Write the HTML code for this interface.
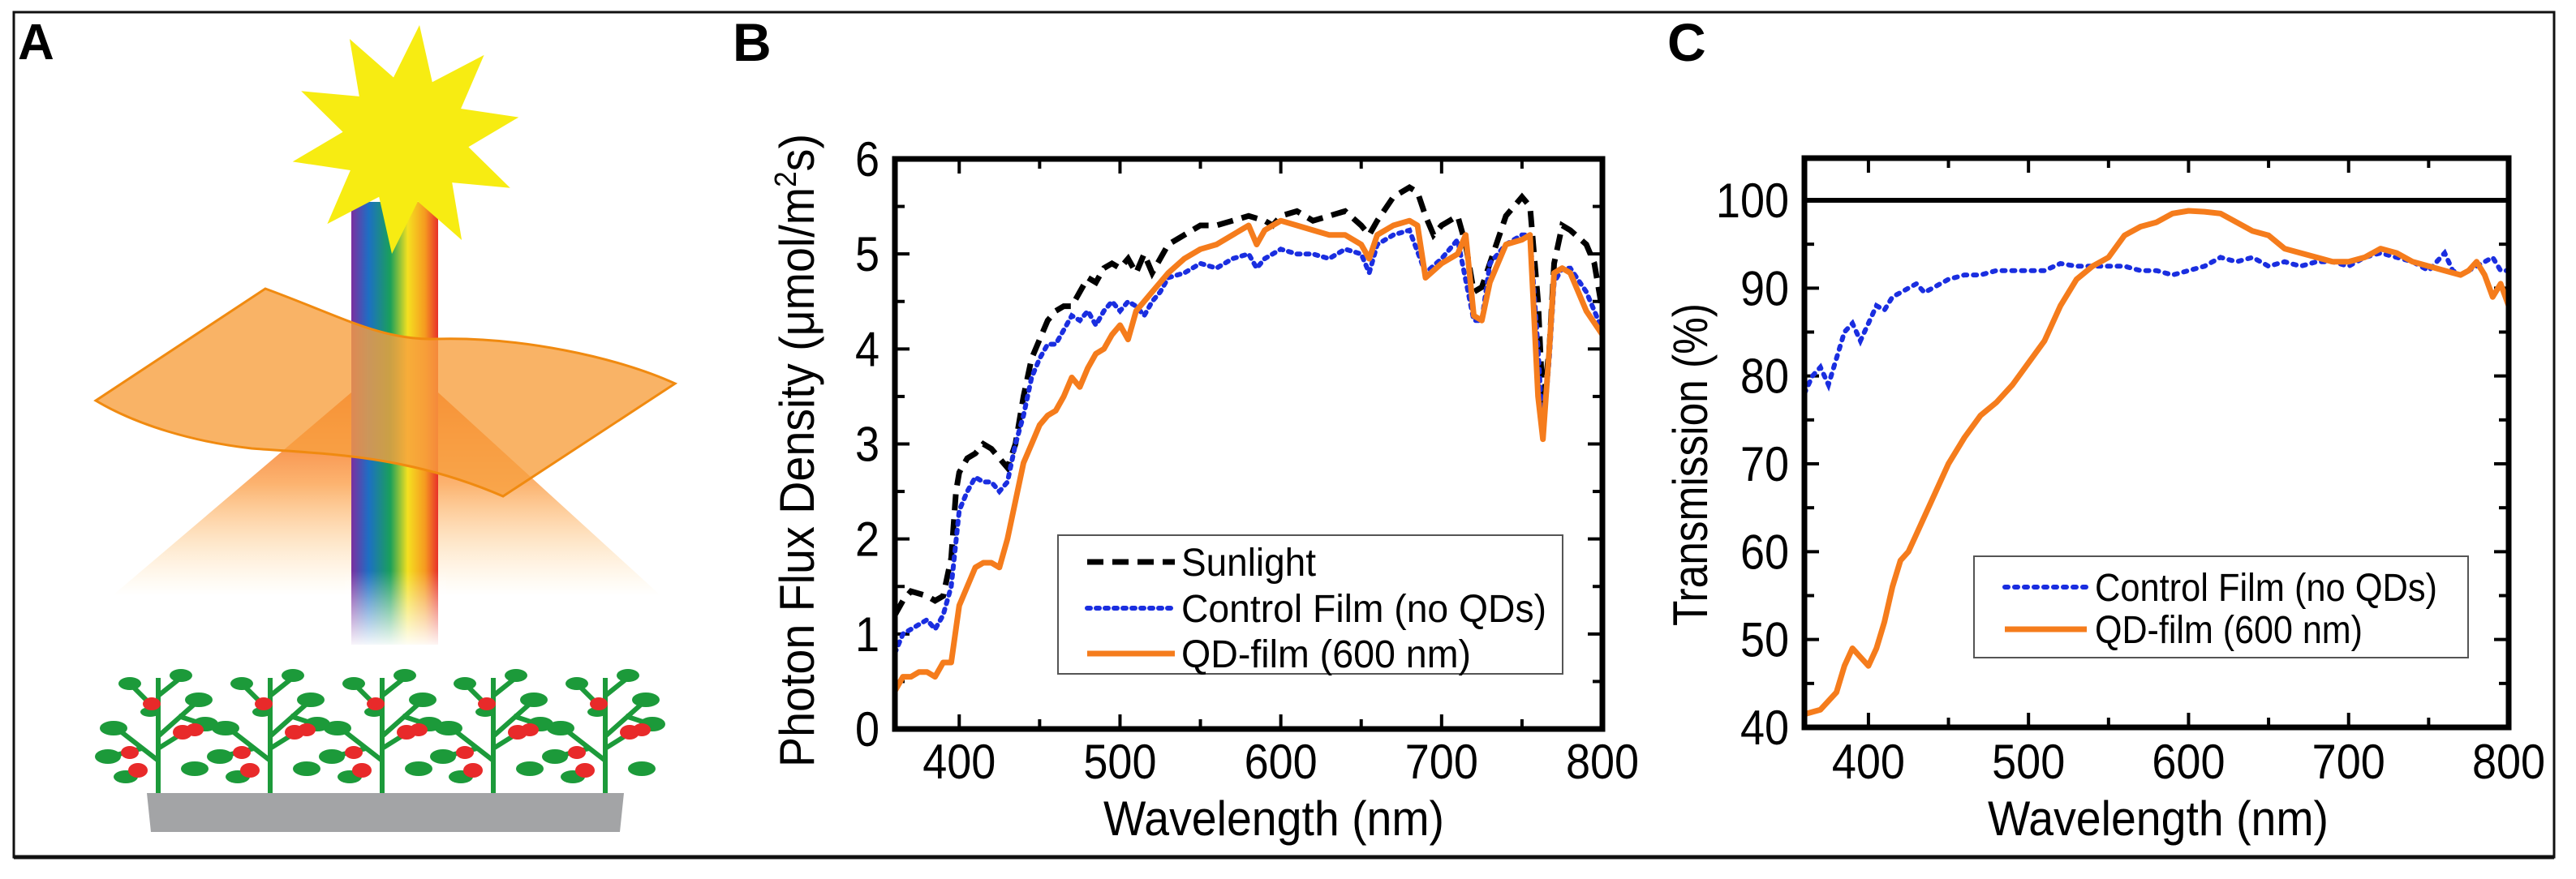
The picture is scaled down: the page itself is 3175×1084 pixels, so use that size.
<!DOCTYPE html>
<html><head><meta charset="utf-8"><style>
html,body{margin:0;padding:0;background:#fff;}
svg{display:block;font-family:"Liberation Sans",Arial,sans-serif;}
</style></head><body>
<svg id="fig" width="3175" height="1084" viewBox="0 0 3175 1084" xmlns="http://www.w3.org/2000/svg">
<defs>
<linearGradient id="rainbow" x1="0" x2="1" y1="0" y2="0">
<stop offset="0" stop-color="#7b2fa0"/><stop offset="0.2" stop-color="#1d6fc4"/><stop offset="0.45" stop-color="#1aa05a"/><stop offset="0.65" stop-color="#f5e020"/><stop offset="0.85" stop-color="#f59a20"/><stop offset="1" stop-color="#e8302a"/>
</linearGradient>
<linearGradient id="fadeDown" x1="0" x2="0" y1="0" y2="1">
<stop offset="0" stop-color="#fff" stop-opacity="0"/><stop offset="0.6" stop-color="#fff" stop-opacity="0"/><stop offset="1" stop-color="#fff" stop-opacity="1"/>
</linearGradient>
<linearGradient id="cone" x1="0" x2="0" y1="0" y2="1">
<stop offset="0" stop-color="#f25a10" stop-opacity="0.95"/><stop offset="0.45" stop-color="#fb9a40" stop-opacity="0.75"/><stop offset="1" stop-color="#ffd890" stop-opacity="0"/>
</linearGradient>
<g id="plant">
<path d="M0,0 V-142 M0,-40 L-45,-75 M0,-70 L45,-110 M0,-100 L-30,-130 M0,-55 L40,-80 M-20,-55 L-60,-45 M25,-95 L55,-85 M0,-120 L25,-140" stroke="#1c9a3a" stroke-width="6" fill="none"/>
<ellipse cx="-55" cy="-80" rx="17" ry="9" fill="#1c9a3a"/><ellipse cx="-62" cy="-45" rx="16" ry="9" fill="#1c9a3a"/>
<ellipse cx="50" cy="-115" rx="17" ry="9" fill="#1c9a3a"/><ellipse cx="58" cy="-85" rx="16" ry="9" fill="#1c9a3a"/>
<ellipse cx="-35" cy="-135" rx="14" ry="8" fill="#1c9a3a"/><ellipse cx="28" cy="-145" rx="14" ry="8" fill="#1c9a3a"/>
<ellipse cx="45" cy="-30" rx="17" ry="9" fill="#1c9a3a"/><ellipse cx="-40" cy="-20" rx="15" ry="8" fill="#1c9a3a"/>
<ellipse cx="-10" cy="-100" rx="12" ry="6" fill="#1c9a3a"/>
<ellipse cx="-8" cy="-110" rx="11" ry="8" fill="#e82a2a"/><ellipse cx="30" cy="-75" rx="12" ry="9" fill="#e82a2a"/>
<ellipse cx="-35" cy="-50" rx="11" ry="8" fill="#e82a2a"/><ellipse cx="-25" cy="-28" rx="12" ry="9" fill="#e82a2a"/>
<ellipse cx="45" cy="-78" rx="11" ry="8" fill="#e82a2a"/>
</g>
</defs>
<rect x="17" y="15" width="3131" height="1042" fill="none" stroke="#111" stroke-width="3"/>
<line x1="17" y1="1057" x2="3148" y2="1057" stroke="#111" stroke-width="5"/>

<g>
<text x="22" y="73" font-size="62" font-weight="bold">A</text>
<polygon points="433,484 540,484 815,735 138,735" fill="url(#cone)"/>
<rect x="433" y="249" width="107" height="546" fill="url(#rainbow)"/>
<rect x="425" y="560" width="125" height="240" fill="url(#fadeDown)"/>
<path d="M118,494 L327,356 C420,390 470,420 537,418 C640,415 760,440 832,473 L620,612 C500,560 400,560 310,553 C240,545 170,525 118,494 Z" fill="#f8a040" fill-opacity="0.8" stroke="#f08a10" stroke-width="3"/>
<polygon id="sun" fill="#f7ec12"/>
<g>
<use href="#plant" x="195" y="978"/><use href="#plant" x="333" y="978"/><use href="#plant" x="471" y="978"/><use href="#plant" x="608" y="978"/><use href="#plant" x="746" y="978"/>
</g>
<polygon points="181,978 769,978 764,1026 186,1026" fill="#a3a4a6"/>
</g>

<text x="903" y="75" font-size="66" font-weight="bold">B</text>
<g id="chartB"></g>
<text x="2055" y="75" font-size="66" font-weight="bold">C</text>
<g id="chartC"></g>
</svg>
<script>
// ---- Chart B data ----
const bSunX = [360,365,370,380,385,390,395,398,400,405,410,415,420,425,430,435,440,445,450,455,460,465,470,475,480,485,490,495,500,505,510,515,520,525,530,540,550,560,570,580,590,595,600,610,620,630,640,650,655,660,670,680,685,690,695,700,710,715,720,725,730,740,750,755,760,763,767,770,775,780,790,795,800];
const bSunY = [1.2,1.35,1.45,1.4,1.35,1.4,1.8,2.5,2.7,2.85,2.9,3.0,2.95,2.85,2.75,3.0,3.5,3.9,4.1,4.3,4.4,4.45,4.45,4.6,4.75,4.7,4.85,4.9,4.85,4.95,4.8,5.0,4.8,4.95,5.1,5.2,5.3,5.3,5.35,5.4,5.35,5.3,5.4,5.45,5.35,5.4,5.45,5.3,5.2,5.35,5.6,5.7,5.65,5.4,5.2,5.3,5.4,5.1,4.6,4.65,4.9,5.4,5.6,5.5,4.5,3.4,4.0,4.9,5.3,5.25,5.1,4.9,4.4];
const bCtlX = [360,365,370,375,380,385,390,395,400,405,410,415,420,425,430,435,440,445,450,455,460,465,470,475,480,485,490,495,500,505,510,515,520,525,530,540,550,560,570,580,585,590,600,610,620,630,640,650,655,660,670,680,690,700,710,720,725,730,740,750,755,760,763,767,770,775,780,790,800];
const bCtlY = [0.8,1.0,1.05,1.1,1.15,1.05,1.2,1.5,2.3,2.5,2.65,2.6,2.6,2.5,2.6,3.0,3.3,3.7,3.9,4.05,4.05,4.2,4.35,4.3,4.4,4.25,4.4,4.5,4.4,4.5,4.45,4.35,4.5,4.6,4.75,4.8,4.9,4.85,4.95,5.0,4.85,4.95,5.05,5.0,5.0,4.95,5.05,5.0,4.8,5.1,5.2,5.25,4.8,4.95,5.15,4.3,4.3,4.9,5.1,5.2,5.2,4.0,3.1,3.9,4.7,4.85,4.85,4.6,4.2];
const bQdX = [360,365,370,375,380,385,390,395,400,405,410,415,420,425,430,435,440,445,450,455,460,465,470,475,480,485,490,495,500,505,510,520,530,540,550,560,570,580,585,590,600,610,620,630,640,650,655,660,670,680,685,690,700,710,715,720,725,730,740,750,755,760,763,767,770,775,780,790,800];
const bQdY = [0.4,0.55,0.55,0.6,0.6,0.55,0.7,0.7,1.3,1.5,1.7,1.75,1.75,1.7,2.0,2.4,2.8,3.0,3.2,3.3,3.35,3.5,3.7,3.6,3.8,3.95,4.0,4.15,4.25,4.1,4.4,4.6,4.8,4.95,5.05,5.1,5.2,5.3,5.1,5.25,5.35,5.3,5.25,5.2,5.2,5.1,4.95,5.2,5.3,5.35,5.3,4.75,4.9,5.0,5.2,4.35,4.3,4.7,5.1,5.15,5.2,3.5,3.05,4.0,4.8,4.85,4.8,4.4,4.15];
const bYTicks = [0,1,2,3,4,5,6];
const bXTicks = [400,500,600,700,800];
const bLegend = ["Sunlight","Control Film (no QDs)","QD-film (600 nm)"];

// ---- Chart C data ----
const cQdX = [360,370,380,385,390,395,400,405,410,415,420,425,430,440,450,460,470,480,490,500,510,520,530,540,550,560,570,580,590,600,610,620,630,640,650,660,670,680,690,700,710,720,730,740,750,760,770,775,780,785,790,795,800];
const cQdY = [41.5,42,44,47,49,48,47,49,52,56,59,60,62,66,70,73,75.5,77,79,81.5,84,88,91,92.5,93.5,96,97,97.5,98.5,98.8,98.7,98.5,97.5,96.5,96,94.5,94,93.5,93,93,93.5,94.5,94,93,92.5,92,91.5,92,93,91.5,89,90.5,88];
const cCtlX = [360,365,370,375,380,385,390,395,400,405,410,415,420,430,435,440,450,460,470,480,490,500,510,520,530,540,550,560,570,580,590,600,610,620,630,640,650,660,670,680,690,700,710,720,730,740,750,760,765,770,780,790,795,800];
const cCtlY = [78,80,81,79,82,85,86,84,86,88,87.5,89,89.5,90.5,89.5,90,91,91.5,91.5,92,92,92,92,92.8,92.5,92.5,92.5,92.5,92,92,91.5,92,92.5,93.5,93,93.5,92.5,93,92.5,93,93,92.5,93.5,94,93.5,93,92,94,92,91.5,92.5,93.5,92,92];
const cRef = 100;
const cYTicks = [40,50,60,70,80,90,100];
const cXTicks = [400,500,600,700,800];
const cLegend = ["Control Film (no QDs)","QD-film (600 nm)"];

const NS = "http://www.w3.org/2000/svg";
function mk(parent, tag, attrs, text){
  const e = document.createElementNS(NS, tag);
  for (const k in attrs) e.setAttribute(k, attrs[k]);
  if (text !== undefined) e.textContent = text;
  parent.appendChild(e);
  return e;
}
(function(){
  const pts=[]; const cx=500, cy=172;
  for(let i=0;i<20;i++){const r=i%2?78:142; const a=-Math.PI/2+0.12+i*Math.PI/10; pts.push((cx+r*Math.cos(a)).toFixed(1)+","+(cy+r*Math.sin(a)).toFixed(1));}
  document.getElementById('sun').setAttribute('points',pts.join(' '));
})();

function axes(g, L, R, T, B, xmin, xmax, ymin, ymax, xt, yt, xminor, yminor){
  const sx = v => L + (v - xmin) / (xmax - xmin) * (R - L);
  const sy = v => B - (v - ymin) / (ymax - ymin) * (B - T);
  const tk = mk(g,'g',{stroke:'#000','stroke-width':4});
  
  
  for (let v = xt[0]-xminor; v <= xmax; v += xminor){
    if (v <= xmin) continue;
    const len = (Math.round(v) % (2*xminor) === 0) ? 18 : 12;
    mk(tk,'line',{x1:sx(v),x2:sx(v),y1:B,y2:B-len});
    mk(tk,'line',{x1:sx(v),x2:sx(v),y1:T,y2:T+len});
  }
  for (let v = ymin + yminor; v < ymax; v += yminor){
    const len = (Math.abs((v-ymin)/(2*yminor) - Math.round((v-ymin)/(2*yminor)))<1e-6) ? 18 : 12;
    mk(tk,'line',{x1:L,x2:L+len,y1:sy(v),y2:sy(v)});
    mk(tk,'line',{x1:R,x2:R-len,y1:sy(v),y2:sy(v)});
  }
  return {sx, sy};
}
function frame(g,L,R,T,B){
  const f = mk(g,'rect',{x:L,y:T,width:R-L,height:B-T,fill:'none',stroke:'#000','stroke-width':7});
  
  
}
function pathOf(xs, ys, sx, sy){
  return xs.map((x,i)=>(i?'L':'M')+sx(x).toFixed(1)+','+sy(ys[i]).toFixed(1)).join(' ');
}
function tickLabel(parent, x, y, txt, anchor){
  return mk(parent,'text',{x:0,y:0,'text-anchor':anchor,transform:'translate('+x+','+y+') scale(0.9,1)'},txt);
}

(function(){
  const g = document.getElementById('chartB');
  const L=1103,R=1975,T=196,B=899;
  const {sx, sy} = axes(g,L,R,T,B,360,800,0,6,bXTicks,bYTicks,50,0.5);
  const yl = mk(g,'g',{'font-size':60});
  
  
  bYTicks.forEach(v=>tickLabel(yl,1084,sy(v)+21,String(v),'end'));
  const xl = mk(g,'g',{'font-size':60});
  
  
  bXTicks.forEach(v=>tickLabel(xl,sx(v),960,String(v),'middle'));
  const xt = mk(g,'text',{x:1360,y:1030,'font-size':60,textLength:420,lengthAdjust:'spacingAndGlyphs'},'Wavelength (nm)');
  
  
  const yt = mk(g,'text',{x:0,y:0,'font-size':60,transform:'translate(1003,946) rotate(-90)',textLength:781,lengthAdjust:'spacingAndGlyphs'});
  
  
  yt.innerHTML = 'Photon Flux Density (\u03bcmol/m<tspan dy="-22" font-size="38">2</tspan><tspan dy="22">s)</tspan>';
  const s1 = mk(g,'path',{d:pathOf(bSunX,bSunY,sx,sy),fill:'none',stroke:'#000','stroke-width':7,'stroke-dasharray':'20,11'});
  
  
  const s2 = mk(g,'path',{d:pathOf(bCtlX,bCtlY,sx,sy),fill:'none',stroke:'#1a2ee0','stroke-width':6,'stroke-dasharray':'4,7','stroke-linecap':'round'});
  
  
  const s3 = mk(g,'path',{d:pathOf(bQdX,bQdY,sx,sy),fill:'none',stroke:'#f57c1c','stroke-width':7,'stroke-linejoin':'round'});
  
  
  frame(g,L,R,T,B);
  const lg = mk(g,'g',{});
  
  
  mk(lg,'rect',{x:1304,y:660,width:622,height:171,fill:'#fff',stroke:'#555','stroke-width':2});
  const styles=[{stroke:'#000','stroke-width':7,'stroke-dasharray':'20,11'},{stroke:'#1a2ee0','stroke-width':6,'stroke-dasharray':'4,7','stroke-linecap':'round'},{stroke:'#f57c1c','stroke-width':7}];
  const ys=[693,750,806];
  const lens=[166,450,357];
  bLegend.forEach((t,i)=>{
    const ln = mk(lg,'line',Object.assign({x1:1340,x2:1448,y1:ys[i],y2:ys[i]},styles[i]));
    
    
    const tx = mk(lg,'text',{x:1456,y:ys[i]+17,'font-size':48,textLength:lens[i],lengthAdjust:'spacingAndGlyphs'},t);
    
    
  });
})();

(function(){
  const g = document.getElementById('chartC');
  const L=2224,R=3092,T=195,B=897;
  const ymax = 40 + (B-T)/((B-247)/60);
  const {sx, sy} = axes(g,L,R,T,B,360,800,40,ymax,cXTicks,cYTicks,50,5);
  const yl = mk(g,'g',{'font-size':60});
  
  
  cYTicks.forEach(v=>tickLabel(yl,2205,sy(v)+21,String(v),'end'));
  const xl = mk(g,'g',{'font-size':60});
  
  
  cXTicks.forEach(v=>tickLabel(xl,sx(v),960,String(v),'middle'));
  const xt = mk(g,'text',{x:2450,y:1030,'font-size':60,textLength:420,lengthAdjust:'spacingAndGlyphs'},'Wavelength (nm)');
  
  
  const yt = mk(g,'text',{x:0,y:0,'font-size':60,transform:'translate(2104,772) rotate(-90)',textLength:398,lengthAdjust:'spacingAndGlyphs'},'Transmission (%)');
  
  
  const ref = mk(g,'line',{x1:L,x2:R,y1:sy(cRef),y2:sy(cRef),stroke:'#000','stroke-width':6});
  
  
  const s2 = mk(g,'path',{d:pathOf(cCtlX,cCtlY,sx,sy),fill:'none',stroke:'#1a2ee0','stroke-width':6,'stroke-dasharray':'4,8','stroke-linecap':'round'});
  
  
  const s3 = mk(g,'path',{d:pathOf(cQdX,cQdY,sx,sy),fill:'none',stroke:'#f57c1c','stroke-width':7,'stroke-linejoin':'round'});
  
  
  frame(g,L,R,T,B);
  const lg = mk(g,'g',{});
  
  
  mk(lg,'rect',{x:2433,y:686,width:609,height:125,fill:'#fff',stroke:'#555','stroke-width':2});
  const styles=[{stroke:'#1a2ee0','stroke-width':6,'stroke-dasharray':'4,8','stroke-linecap':'round'},{stroke:'#f57c1c','stroke-width':7}];
  const ys=[724,776];
  const lens=[422,330];
  cLegend.forEach((t,i)=>{
    const ln = mk(lg,'line',Object.assign({x1:2471,x2:2572,y1:ys[i],y2:ys[i]},styles[i]));
    
    
    const tx = mk(lg,'text',{x:2582,y:ys[i]+17,'font-size':48,textLength:lens[i],lengthAdjust:'spacingAndGlyphs'},t);
    
    
  });
})();
</script>
</body></html>
